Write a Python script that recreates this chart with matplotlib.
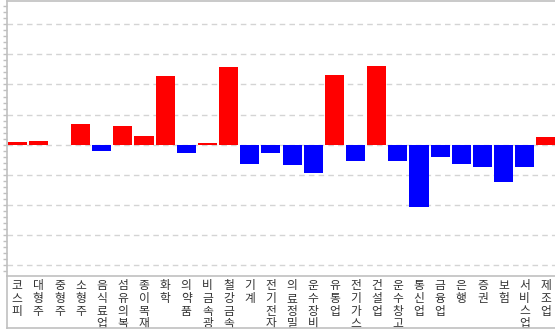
import matplotlib
matplotlib.use("Agg")
import matplotlib.pyplot as plt
from matplotlib.lines import Line2D
from matplotlib.ticker import MultipleLocator, NullFormatter
from matplotlib.transforms import Bbox, TransformedBbox

plt.rcParams["font.family"] = ["Noto Sans CJK KR", "DejaVu Sans"]

# sector names and daily change (arbitrary units)
SECTORS = ["코스피", "대형주", "중형주", "소형주", "음식료업", "섬유의복", "종이목재",
           "화학", "의약품", "비금속광물", "철강금속", "기계", "전기전자", "의료정밀",
           "운수장비", "유통업", "전기가스", "건설업", "운수창고", "통신업", "금융업",
           "은행", "증권", "보험", "서비스업", "제조업"]
CHANGE = [0.08, 0.12, -0.03, 0.68, -0.22, 0.62, 0.28,
          2.28, -0.28, 0.05, 2.58, -0.65, -0.28, -0.68,
          -0.95, 2.32, -0.55, 2.62, -0.55, -2.08, -0.42,
          -0.65, -0.75, -1.25, -0.75, 0.25]

GRAY = "#c0c0c0"
W, H = 555, 329

fig = plt.figure(figsize=(W / 100, H / 100), dpi=100)
# axes in pixel terms: left 6.5, top 1, bottom 275.5, a bit wider than the image
ax = fig.add_axes([6.5 / W, (H - 275.5) / H, 550 / W, 274.5 / H])

x = range(len(SECTORS))
colors = ["#ff0000" if v > 0 else "#0000ff" for v in CHANGE]
ax.bar(x, CHANGE, width=0.9, color=colors, zorder=3)

ax.set_xlim(-0.5, len(SECTORS) - 0.5)
ax.set_ylim(-4.36, 4.78)

ax.yaxis.set_major_locator(MultipleLocator(1))
ax.yaxis.set_minor_locator(MultipleLocator(0.2))
ax.yaxis.set_major_formatter(NullFormatter())
ax.tick_params(axis="y", which="both", length=3, width=1, color=GRAY, direction="out")
ax.grid(axis="y", which="major", color="#d4d4d4", linestyle=(0, (4, 3)), linewidth=1, zorder=0)

ax.set_xticks(list(x))
ax.set_xticklabels(["\n".join(s) for s in SECTORS], fontsize=8.5, color="#333333",
                   linespacing=0.98, va="top")
ax.tick_params(axis="x", length=0, pad=2.5)

# labels are cut off at the bottom frame, as in the original widget
strip = TransformedBbox(Bbox([[0, 0.6 / H], [1, (H - 275.5) / H]]), fig.transFigure)
for lbl in ax.get_xticklabels():
    lbl.set_clip_box(strip)
    lbl.set_clip_on(True)

for side in ["left", "top", "bottom"]:
    ax.spines[side].set_color(GRAY)
    ax.spines[side].set_linewidth(1.2)
ax.spines["right"].set_visible(False)

# frame round the label strip
fig.add_artist(Line2D([6.5 / W, 6.5 / W], [(H - 328.5) / H, (H - 275.5) / H],
                      color=GRAY, linewidth=1.2))
fig.add_artist(Line2D([6.5 / W, 1.0], [(H - 328.3) / H, (H - 328.3) / H],
                      color=GRAY, linewidth=1.2))

fig.savefig("out.png", dpi=100)
